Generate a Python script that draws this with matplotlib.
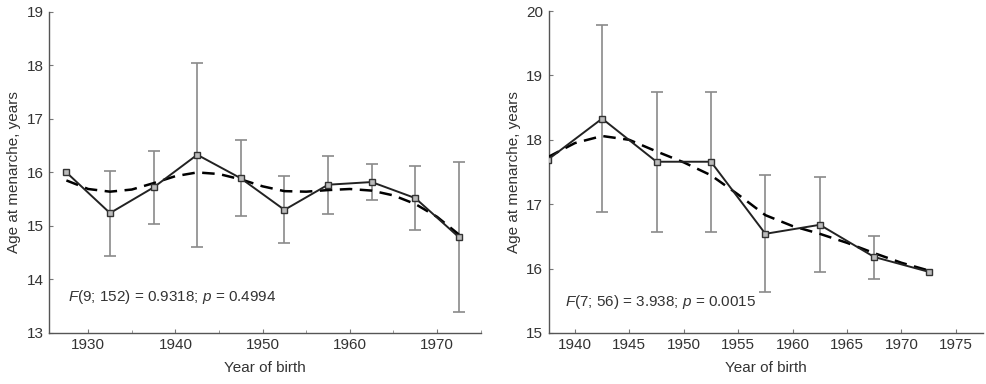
import numpy as np
import matplotlib
matplotlib.use("Agg")
import matplotlib.pyplot as plt
from matplotlib.ticker import MultipleLocator

plt.rcParams['font.family'] = ['Liberation Sans', 'DejaVu Sans']
plt.rcParams['mathtext.fontset'] = 'custom'
plt.rcParams['mathtext.it'] = 'Liberation Sans:italic'
plt.rcParams['mathtext.rm'] = 'Liberation Sans'

TEXT_COLOR = '#333333'

# left panel
years_a = [1927.5, 1932.5, 1937.5, 1942.5, 1947.5, 1952.5, 1957.5, 1962.5, 1967.5, 1972.5]
mean_a = [16.0, 15.24, 15.72, 16.33, 15.89, 15.3, 15.77, 15.82, 15.52, 14.79]
hi_a = [np.nan, 16.03, 16.40, 18.04, 16.60, 15.94, 16.30, 16.15, 16.12, 16.19]
lo_a = [np.nan, 14.44, 15.04, 14.60, 15.18, 14.68, 15.22, 15.48, 14.92, 13.39]
fit_x_a = [1927.5, 1930, 1932.5, 1935, 1937.5, 1940, 1942.5, 1945, 1947.5, 1950,
           1952.5, 1955, 1957.5, 1960, 1962.5, 1965, 1967.5, 1970, 1972.5]
fit_y_a = [15.85, 15.69, 15.64, 15.68, 15.8, 15.93, 16.0, 15.97, 15.87, 15.74,
           15.65, 15.64, 15.67, 15.69, 15.66, 15.57, 15.41, 15.17, 14.84]
label_a = r'$F$(9; 152) = 0.9318; $p$ = 0.4994'

# right panel
years_b = [1937.5, 1942.5, 1947.5, 1952.5, 1957.5, 1962.5, 1967.5, 1972.5]
mean_b = [17.69, 18.33, 17.66, 17.66, 16.54, 16.68, 16.18, 15.95]
hi_b = [np.nan, 19.79, 18.75, 18.75, 17.46, 17.42, 16.50, np.nan]
lo_b = [np.nan, 16.88, 16.57, 16.57, 15.63, 15.95, 15.84, np.nan]
fit_x_b = [1937.5, 1940, 1942.5, 1945, 1947.5, 1950, 1952.5, 1955, 1957.5,
           1960, 1962.5, 1965, 1967.5, 1970, 1972.5]
fit_y_b = [17.73, 17.95, 18.06, 18.0, 17.82, 17.65, 17.45, 17.15, 16.83,
           16.66, 16.54, 16.4, 16.24, 16.09, 15.97]
label_b = r'$F$(7; 56) = 3.938; $p$ = 0.0015'


def draw_panel(ax, years, mean, lo, hi, fit_x, fit_y, label, xlim, ylim, xmajor, xminor, txt_pos):
    mean = np.array(mean)
    err = [mean - np.array(lo), np.array(hi) - mean]
    ax.errorbar(years, mean, yerr=err, fmt='none', ecolor='#8a8a8a',
                elinewidth=1.2, capsize=4.5, capthick=1.2, zorder=2)
    ax.plot(fit_x, fit_y, color='black', lw=1.8, ls=(0, (5, 3)), zorder=3)
    ax.plot(years, mean, color='#222222', lw=1.4, marker='s', ms=5,
            mfc='#bbbbbb', mec='#333333', mew=1.0, zorder=4)
    ax.set_xlim(*xlim)
    ax.set_ylim(*ylim)
    ax.xaxis.set_major_locator(MultipleLocator(xmajor))
    if xminor:
        ax.xaxis.set_minor_locator(MultipleLocator(xminor))
    ax.yaxis.set_major_locator(MultipleLocator(1))
    for s in ['top', 'right']:
        ax.spines[s].set_visible(False)
    for s in ['left', 'bottom']:
        ax.spines[s].set_color('#555555')
        ax.spines[s].set_linewidth(1.0)
    ax.tick_params(direction='in', length=3, width=0.8, color='#777777',
                   labelsize=11, labelcolor=TEXT_COLOR, pad=4)
    ax.tick_params(which='minor', direction='in', length=2, width=0.6, color='#888888')
    ax.set_xlabel('Year of birth', fontsize=11, color=TEXT_COLOR, labelpad=6)
    ax.set_ylabel('Age at menarche, years', fontsize=11, color=TEXT_COLOR, labelpad=4)
    ax.text(txt_pos[0], txt_pos[1], label, transform=ax.transAxes,
            fontsize=11, color=TEXT_COLOR, va='center', ha='left')


fig = plt.figure(figsize=(9.87, 3.84), dpi=100)
ax1 = fig.add_axes([0.0496, 0.133, 0.4374, 0.836])
ax2 = fig.add_axes([0.556, 0.133, 0.440, 0.838])

draw_panel(ax1, years_a, mean_a, lo_a, hi_a, fit_x_a, fit_y_a, label_a,
           (1925.5, 1975), (13, 19), 10, 5, (0.044, 0.112))
draw_panel(ax2, years_b, mean_b, lo_b, hi_b, fit_x_b, fit_y_b, label_b,
           (1937.6, 1977.5), (15, 20), 5, None, (0.037, 0.096))

fig.savefig('out.png', dpi=100)
